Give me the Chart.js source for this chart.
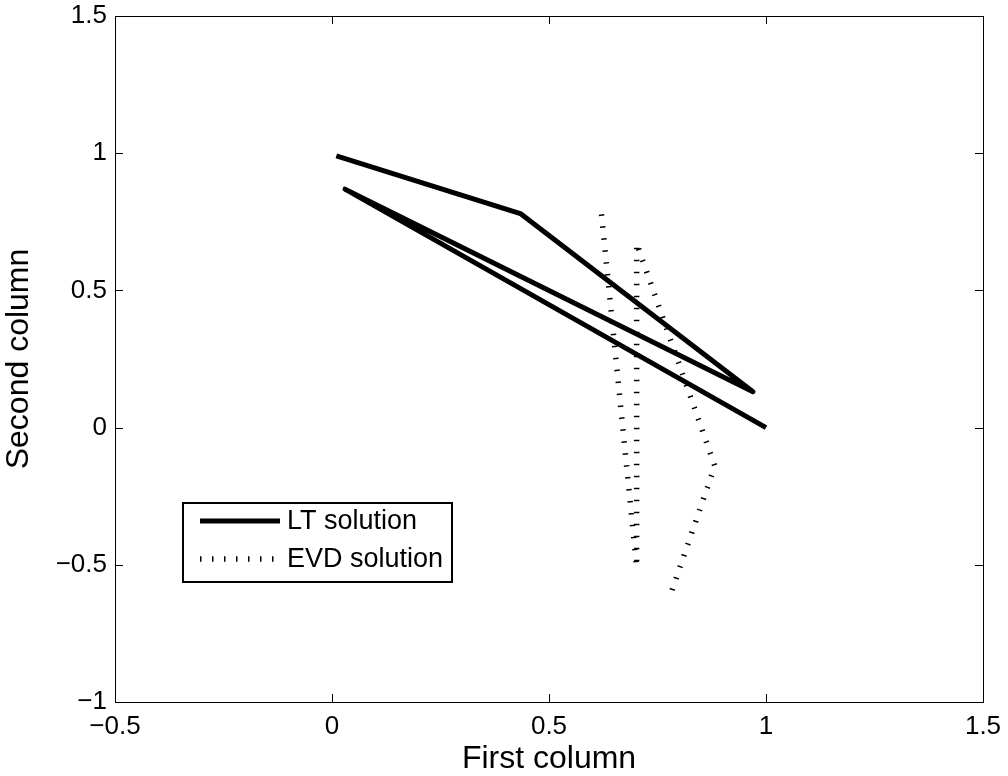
<!DOCTYPE html>
<html>
<head>
<meta charset="utf-8">
<script src="https://cdn.jsdelivr.net/npm/chart.js@4.4.1/dist/chart.umd.min.js"></script>
<style>
  body { margin: 0; background: #fff; }
  #wrap { width: 1008px; height: 776px; }
</style>
</head>
<body>
<div id="wrap"><canvas id="chart" width="1008" height="776"></canvas></div>
<script>
// LT solution polyline
const ltX = [0.01, 0.434, 0.97, 0.03, 1.0];
const ltY = [0.99, 0.78, 0.131, 0.869, 0.0];
// EVD solution polyline
const evdX = [0.621, 0.702, 0.702, 0.882, 0.783];
const evdY = [0.777, -0.508, 0.672, -0.14, -0.595];

const xTicks = [-0.5, 0, 0.5, 1, 1.5];
const yTicks = [-1, -0.5, 0, 0.5, 1, 1.5];
const seriesNames = ["LT solution", "EVD solution"];

const FONT = "'Liberation Sans', Arial, Helvetica, sans-serif";

function toPoints(xs, ys) {
  return xs.map((x, i) => ({ x: x, y: ys[i] }));
}

function fmt(v) {
  return String(v).replace("-", "\u2212");
}

// box, inward ticks and legend, like the matlab figure
const framePlugin = {
  id: "frame",
  afterDraw(chart) {
    const ctx = chart.ctx;
    const a = chart.chartArea;
    const xs = chart.scales.x;
    const ys = chart.scales.y;
    ctx.save();
    ctx.strokeStyle = "#000";
    ctx.lineWidth = 1;
    ctx.setLineDash([]);
    ctx.strokeRect(Math.round(a.left) + 0.5, Math.round(a.top) + 0.5,
      Math.round(a.right - a.left), Math.round(a.bottom - a.top));
    const tl = 8;
    ctx.beginPath();
    xTicks.forEach(v => {
      const px = Math.round(xs.getPixelForValue(v)) + 0.5;
      ctx.moveTo(px, a.bottom); ctx.lineTo(px, a.bottom - tl);
      ctx.moveTo(px, a.top); ctx.lineTo(px, a.top + tl);
    });
    yTicks.forEach(v => {
      const py = Math.round(ys.getPixelForValue(v)) + 0.5;
      ctx.moveTo(a.left, py); ctx.lineTo(a.left + tl, py);
      ctx.moveTo(a.right, py); ctx.lineTo(a.right - tl, py);
    });
    ctx.stroke();

    // legend
    const bx = a.left + 68, by = a.top + 487, bw = 269, bh = 79;
    ctx.fillStyle = "#fff";
    ctx.fillRect(bx, by, bw, bh);
    ctx.lineWidth = 2;
    ctx.strokeRect(bx, by, bw, bh);
    ctx.font = "27px " + FONT;
    ctx.textBaseline = "middle";
    ctx.fillStyle = "#000";
    chart.data.datasets.forEach((ds, i) => {
      const ly = by + 18 + i * 38;
      ctx.save();
      ctx.lineWidth = ds.borderWidth;
      ctx.lineCap = ds.borderCapStyle || "butt";
      ctx.setLineDash(ds.borderDash || []);
      ctx.beginPath();
      ctx.moveTo(bx + 17, ly);
      ctx.lineTo(bx + 97, ly);
      ctx.stroke();
      ctx.restore();
      ctx.fillText(seriesNames[i], bx + 104, ly + 1);
    });
    ctx.restore();
  }
};

new Chart(document.getElementById("chart"), {
  type: "scatter",
  data: {
    datasets: [
      {
        label: seriesNames[0],
        data: toPoints(ltX, ltY),
        showLine: true,
        borderColor: "#000",
        borderWidth: 5,
        borderJoinStyle: "round",
        borderCapStyle: "butt",
        pointRadius: 0,
        tension: 0
      },
      {
        label: seriesNames[1],
        data: toPoints(evdX, evdY),
        showLine: true,
        borderColor: "#000",
        borderWidth: 5.5,
        borderDash: [1.5, 10.5],
        borderCapStyle: "butt",
        pointRadius: 0,
        tension: 0
      }
    ]
  },
  options: {
    responsive: false,
    animation: false,
    layout: { padding: { top: 16, right: 25, left: 0, bottom: 0 } },
    plugins: {
      legend: { display: false },
      tooltip: { enabled: false }
    },
    scales: {
      x: {
        type: "linear",
        min: -0.5,
        max: 1.5,
        afterBuildTicks: s => { s.ticks = xTicks.map(v => ({ value: v })); },
        afterFit: s => { s.height = 74; s.paddingLeft = 0; s.paddingRight = 0; },
        grid: { display: false, drawTicks: false },
        border: { display: false },
        ticks: {
          color: "#000",
          padding: 9,
          maxRotation: 0,
          font: { family: FONT, size: 26 },
          callback: v => fmt(v)
        },
        title: {
          display: true,
          text: "First column",
          color: "#000",
          padding: { top: 0, bottom: -2 },
          font: { family: FONT, size: 32 }
        }
      },
      y: {
        type: "linear",
        min: -1,
        max: 1.5,
        afterBuildTicks: s => { s.ticks = yTicks.map(v => ({ value: v })); },
        afterFit: s => { s.width = 115; s.paddingTop = 0; s.paddingBottom = 0; },
        grid: { display: false, drawTicks: false },
        border: { display: false },
        ticks: {
          color: "#000",
          padding: 8,
          font: { family: FONT, size: 26 },
          callback: v => fmt(v)
        },
        title: {
          display: true,
          text: "Second column",
          color: "#000",
          padding: 0,
          font: { family: FONT, size: 32 }
        }
      }
    }
  },
  plugins: [framePlugin]
});
</script>
</body>
</html>
